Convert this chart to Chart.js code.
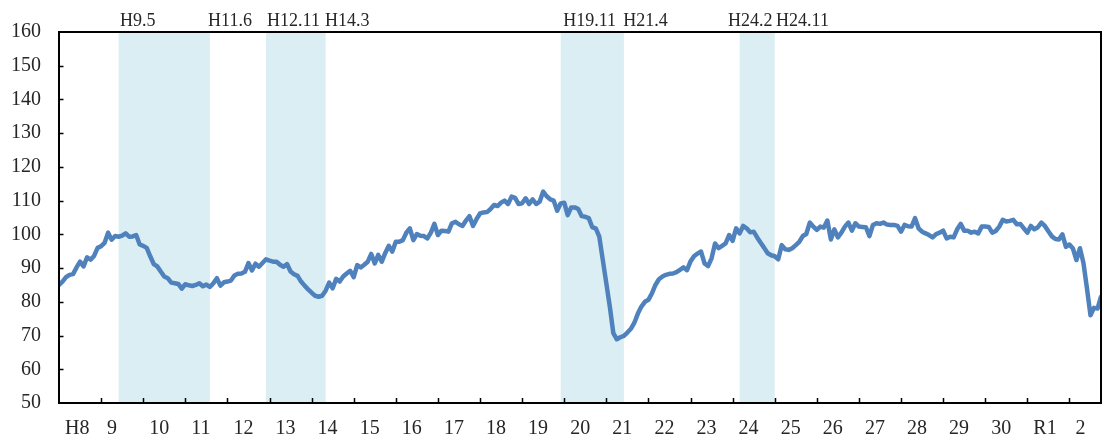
<!DOCTYPE html>
<html>
<head>
<meta charset="utf-8">
<script src="https://cdn.jsdelivr.net/npm/chart.js@4.4.0/dist/chart.umd.min.js"></script>
<style>
  html, body { margin: 0; padding: 0; background: #fff; }
  #wrap { width: 1104px; height: 438px; }
</style>
</head>
<body>
<div id="wrap"><canvas id="chart" width="1104" height="438"></canvas></div>
<script>
// --- Data ---
// year labels on the x axis (one per 12 months, starting Jan H8)
const yearLabels = ['H8', '9', '10', '11', '12', '13', '14', '15', '16', '17', '18', '19',
  '20', '21', '22', '23', '24', '25', '26', '27', '28', '29', '30', 'R1', '2'];

// monthly index values, one row per year (H8 = 1996 ... R2 = 2020)
const values = [
  85.0, 86.0, 87.3, 88.0, 88.2, 90.2, 91.9, 90.5, 93.2, 92.5, 93.6, 96.0,
  96.5, 97.5, 100.5, 98.4, 99.5, 99.3, 99.6, 100.3, 99.3, 99.4, 99.8, 97.0,
  96.6, 96.0, 93.5, 91.2, 90.5, 89.0, 87.5, 87.0, 85.7, 85.5, 85.3, 83.9,
  85.2, 84.9, 84.7, 85.0, 85.5, 84.6, 85.1, 84.4, 85.5, 87.0, 84.8, 85.8,
  86.0, 86.3, 87.8, 88.3, 88.4, 88.9, 91.5, 89.3, 91.3, 90.4, 91.5, 92.6,
  92.2, 91.9, 91.9, 91.0, 90.4, 91.2, 89.0, 88.2, 87.7, 86.0, 84.8, 83.7,
  82.7, 81.8, 81.5, 81.8, 83.3, 85.7, 84.0, 86.8, 86.0, 87.5, 88.4, 89.2,
  87.3, 90.9, 90.2, 91.0, 91.9, 94.2, 91.4, 93.9, 91.9, 94.5, 96.6, 94.9,
  97.8, 97.8, 98.3, 100.5, 101.8, 98.3, 100.1, 99.6, 99.5, 98.8, 100.5, 103.1,
  99.8, 101.1, 101.0, 100.8, 103.3, 103.7, 103.0, 102.5, 104.1, 105.4, 102.5, 104.5,
  106.2, 106.5, 106.6, 107.5, 108.7, 108.4, 109.4, 110.0, 109.0, 111.2, 110.8, 109.0,
  109.2, 110.7, 109.0, 110.4, 109.0, 109.7, 112.7, 111.3, 110.4, 110.0, 107.0, 109.2,
  109.4, 105.7, 108.0, 108.0, 107.5, 105.4, 105.2, 104.8, 102.1, 101.8, 99.3, 92.4,
  85.5, 78.6, 70.7, 68.9, 69.5, 69.9, 70.9, 72.0, 73.8, 76.5, 78.6, 80.0,
  80.6, 82.5, 85.0, 86.7, 87.5, 88.0, 88.3, 88.4, 88.8, 89.5, 90.2, 89.4,
  92.0, 93.5, 94.3, 94.9, 91.4, 90.6, 92.9, 97.3, 95.9, 96.6, 97.3, 99.8,
  98.1, 101.8, 100.3, 102.5, 101.8, 100.6, 100.8, 99.1, 97.5, 96.0, 94.4, 93.8,
  93.5, 92.6, 96.8, 95.6, 95.4, 95.9, 96.8, 97.8, 99.5, 100.1, 103.5, 102.3,
  101.3, 102.3, 102.0, 104.1, 98.5, 101.5, 99.1, 100.5, 102.3, 103.5, 101.1, 103.3,
  102.3, 102.2, 102.1, 99.5, 102.8, 103.3, 103.1, 103.5, 102.9, 102.8, 102.8, 102.5,
  100.8, 102.8, 102.4, 102.3, 104.8, 101.8, 100.8, 100.3, 99.8, 99.1, 100.1, 100.5,
  101.1, 98.8, 99.3, 99.1, 101.5, 103.1, 101.1, 101.1, 100.5, 100.8, 100.3, 102.3,
  102.3, 102.2, 100.5, 101.0, 102.3, 104.3, 103.8, 104.0, 104.3, 103.0, 103.1, 101.8,
  100.5, 102.5, 101.5, 102.1, 103.5, 102.5, 100.9, 99.4, 98.6, 98.5, 100.0, 96.3,
  97.0, 95.8, 92.4, 95.9, 91.5, 84.0, 76.0, 78.2, 78.0, 81.5
];

// shaded periods, in months from Jan H8
const bandFrom = [17, 59, 143, 194];
const bandTo = [43, 76, 161, 204];

// labels above the plot (left edge, months from Jan H8)
const bandLabels = ['H9.5', 'H11.6', 'H12.11', 'H14.3', 'H19.11', 'H21.4', 'H24.2', 'H24.11'];
const bandLabelAt = [17.4, 42.5, 59.3, 75.8, 143.7, 160.8, 190.7, 204.4];

// --- Styling ---
const LINE_BLUE = '#4F81BD';
const BAND_BLUE = '#DAEEF3';
const TEXT = '#262626';
const SERIF = '"Liberation Serif", "DejaVu Serif", serif';

Chart.defaults.font.family = SERIF;
Chart.defaults.color = TEXT;

// --- Plugin: bands, frame, inside ticks, top labels ---
const decorations = {
  id: 'decorations',
  beforeDatasetsDraw(chart) {
    const { ctx, chartArea, scales: { x } } = chart;
    ctx.save();
    ctx.fillStyle = BAND_BLUE;
    bandFrom.forEach((from, i) => {
      const x1 = x.getPixelForValue(from);
      const x2 = x.getPixelForValue(bandTo[i]);
      ctx.fillRect(x1, chartArea.top, x2 - x1, chartArea.bottom - chartArea.top);
    });
    ctx.restore();
  },
  afterDatasetsDraw(chart) {
    const { ctx, chartArea, scales: { x, y } } = chart;
    ctx.save();
    ctx.strokeStyle = '#000';
    ctx.lineWidth = 2;
    ctx.strokeRect(chartArea.left, chartArea.top, chartArea.right - chartArea.left, chartArea.bottom - chartArea.top);

    // inside tick marks
    ctx.lineWidth = 1.5;
    ctx.beginPath();
    x.ticks.forEach((t, i) => {
      if (i === 0) return;
      const px = Math.round(x.getPixelForValue(t.value)) + 0.5;
      ctx.moveTo(px, chartArea.bottom);
      ctx.lineTo(px, chartArea.bottom - 5);
    });
    y.ticks.forEach(t => {
      if (t.value === y.min || t.value === y.max) return;
      const py = Math.round(y.getPixelForValue(t.value)) + 0.5;
      ctx.moveTo(chartArea.left, py);
      ctx.lineTo(chartArea.left + 4.5, py);
    });
    ctx.stroke();

    // period labels above the plot
    ctx.fillStyle = TEXT;
    ctx.font = '18px ' + SERIF;
    ctx.textAlign = 'left';
    ctx.textBaseline = 'alphabetic';
    bandLabels.forEach((txt, i) => {
      ctx.fillText(txt, x.getPixelForValue(bandLabelAt[i]), chartArea.top - 6);
    });
    ctx.restore();
  }
};

// --- Chart ---
const ctx = document.getElementById('chart').getContext('2d');
new Chart(ctx, {
  type: 'line',
  data: {
    datasets: [{
      data: values.map((v, i) => ({ x: i, y: v })),
      borderColor: LINE_BLUE,
      borderWidth: 4.5,
      borderJoinStyle: 'round',
      borderCapStyle: 'round',
      tension: 0,
      pointRadius: 0,
      fill: false
    }]
  },
  options: {
    responsive: false,
    animation: false,
    layout: { padding: { top: 32, right: 3, left: 0, bottom: 0 } },
    plugins: {
      legend: { display: false },
      tooltip: { enabled: false }
    },
    scales: {
      x: {
        type: 'linear',
        min: 0,
        max: values.length - 1,
        afterBuildTicks: scale => {
          scale.ticks = yearLabels.map((l, i) => ({ value: i * 12 }));
        },
        afterFit: scale => { scale.height = 35; },
        grid: { display: false, drawTicks: false },
        border: { display: false },
        ticks: {
          autoSkip: false,
          maxRotation: 0,
          align: 'start',
          labelOffset: 6,
          padding: 14,
          font: { size: 20 },
          callback: (val, index) => yearLabels[index]
        }
      },
      y: {
        min: 50,
        max: 160,
        afterFit: scale => { scale.width = 59; },
        grid: { display: false, drawTicks: false },
        border: { display: false },
        ticks: {
          stepSize: 10,
          padding: 18,
          font: { size: 20 }
        }
      }
    }
  },
  plugins: [decorations]
});
</script>
</body>
</html>
